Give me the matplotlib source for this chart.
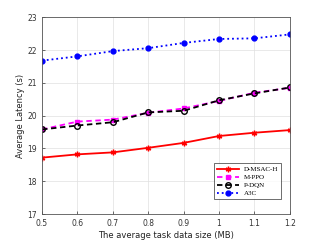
import matplotlib.pyplot as plt

# --- DATA ---
data_size = [0.5, 0.6, 0.7, 0.8, 0.9, 1.0, 1.1, 1.2]
d_msac_h = [18.72, 18.82, 18.88, 19.02, 19.17, 19.38, 19.48, 19.56]
m_ppo = [19.58, 19.82, 19.88, 20.09, 20.22, 20.45, 20.70, 20.85]
p_dqn = [19.58, 19.70, 19.80, 20.10, 20.15, 20.47, 20.68, 20.86]
a3c = [21.68, 21.81, 21.97, 22.06, 22.22, 22.34, 22.36, 22.48]

fig = plt.figure(figsize=(3.21, 2.41), dpi=100)
ax = fig.add_axes([0.131, 0.112, 0.772, 0.816])

ax.plot(data_size, d_msac_h, color="red", linestyle="-", linewidth=1.3,
        marker=(6, 2, 0), markersize=4, label="D-MSAC-H")
ax.plot(data_size, m_ppo, color="magenta", linestyle=(0, (3, 2)), linewidth=1.3,
        marker="s", markersize=2.5, label="M-PPO")
ax.plot(data_size, p_dqn, color="black", linestyle=(0, (3, 2)), linewidth=1.3,
        marker="o", markersize=4, markerfacecolor="none", markeredgewidth=1.0,
        label="P-DQN")
ax.plot(data_size, a3c, color="blue", linestyle=":", linewidth=1.3,
        marker="o", markersize=3.5, label="A3C")

ax.set_xlim(0.5, 1.2)
ax.set_ylim(17, 23)
ax.set_xticks(data_size)
ax.set_xticklabels(["0.5", "0.6", "0.7", "0.8", "0.9", "1", "1.1", "1.2"])
ax.set_yticks(range(17, 24))
ax.tick_params(labelsize=5.5, length=2, width=0.5, direction="in", colors="#333333")
ax.grid(True, color="#e0e0e0", linewidth=0.5)
for s in ax.spines.values():
    s.set_linewidth(0.6)
    s.set_color("#555555")

ax.set_xlabel("The average task data size (MB)", fontsize=6, labelpad=2, color="#222222")
ax.set_ylabel("Average Latency (s)", fontsize=6, labelpad=2, color="#222222")

leg = ax.legend(loc="lower right", fontsize=5, prop={"family": "Liberation Serif", "size": 5},
                frameon=True, fancybox=False, edgecolor="black", borderpad=0.4,
                handlelength=3.2, labelspacing=0.3, bbox_to_anchor=(0.98, 0.06))
leg.get_frame().set_linewidth(0.5)

fig.savefig("out.png", dpi=100)
